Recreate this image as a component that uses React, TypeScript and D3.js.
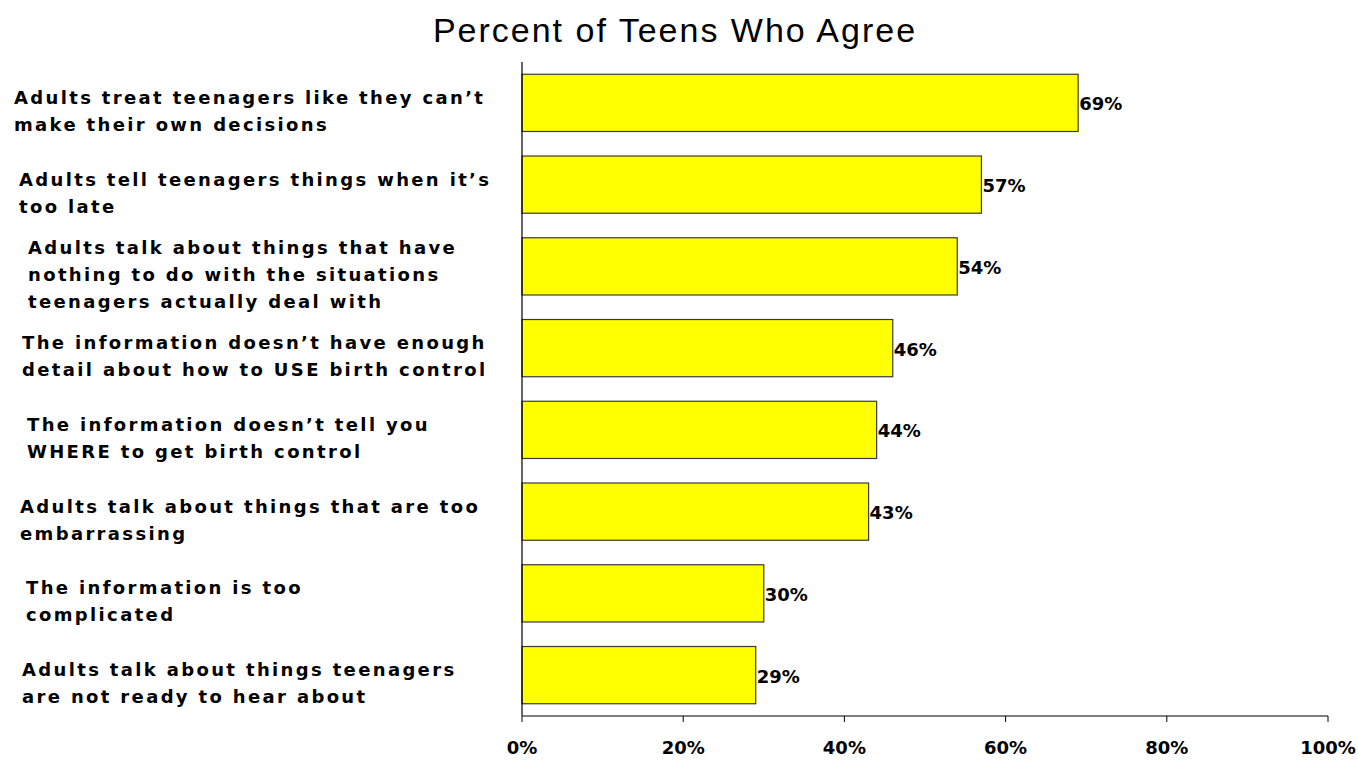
import React from "react";
import * as d3 from "d3";

const categories: string[][] = [
  ["Adults treat teenagers like they can\u2019t", "make their own decisions"],
  ["Adults tell teenagers things when it\u2019s", "too late"],
  ["Adults talk about things that have", "nothing to do with the situations", "teenagers actually deal with"],
  ["The information doesn\u2019t have enough", "detail about how to USE birth control"],
  ["The information doesn\u2019t tell you", "WHERE to get birth control"],
  ["Adults talk about things that are too", "embarrassing"],
  ["The information is too", "complicated"],
  ["Adults talk about things teenagers", "are not ready to hear about"],
];
const values: number[] = [69, 57, 54, 46, 44, 43, 30, 29];
const tickValues: number[] = [0, 20, 40, 60, 80, 100];
const title = "Percent of Teens Who Agree";

// layout only: left indent of each category label
const labelIndent: number[] = [14, 19, 28, 22, 27, 20, 26, 22];

const W = 1358;
const H = 761;
const SANS = "'Liberation Sans', Arial, Helvetica, sans-serif";
const WIDE = "'DejaVu Sans', Verdana, sans-serif";

export default function App() {
  const x = d3.scaleLinear().domain([0, 100]).range([522, 1328]);
  const y = d3
    .scaleBand<number>()
    .domain(d3.range(values.length))
    .range([62, 716])
    .paddingInner(0.3)
    .paddingOuter(0.15);
  const lineH = 27;

  return (
    <svg
      width={W}
      height={H}
      style={{ position: "absolute", left: 0, top: 0, background: "#fff" }}
    >
      <text
        x={675}
        y={42}
        textAnchor="middle"
        fontSize={34}
        letterSpacing={2}
        fontFamily={SANS}
        fill="#000"
      >
        {title}
      </text>

      {values.map((v, i) => {
        const y0 = y(i)!;
        const bw = y.bandwidth();
        const cy = y0 + bw / 2;
        return (
          <g key={i}>
            <rect
              x={x(0)}
              y={y0}
              width={x(v) - x(0)}
              height={bw}
              fill="#ffff00"
              stroke="#3a3a3a"
              strokeWidth={1.2}
            />
            <text
              x={x(v) + 1}
              y={cy + 1}
              dy="0.36em"
              fontSize={18}
              fontWeight="bold"
              fontFamily={WIDE}
              fill="#000"
            >
              {v}%
            </text>
            {categories[i].map((line, j) => {
              const n = categories[i].length;
              const ly = cy + 8 + (j - (n - 1) / 2) * lineH;
              return (
                <text
                  key={j}
                  x={labelIndent[i]}
                  y={ly}
                  dy="0.36em"
                  fontSize={18}
                  fontWeight="bold"
                  letterSpacing={2.35}
                  fontFamily={WIDE}
                  fill="#000"
                >
                  {line}
                </text>
              );
            })}
          </g>
        );
      })}

      <line x1={x(0)} x2={x(0)} y1={62} y2={716} stroke="#000" strokeWidth={1.2} />
      <line x1={x(0)} x2={x(100)} y1={716} y2={716} stroke="#555" strokeWidth={1.6} />
      {tickValues.map((t) => (
        <g key={t}>
          <line x1={x(t)} x2={x(t)} y1={716} y2={722} stroke="#000" strokeWidth={1} />
          <text
            x={x(t)}
            y={748}
            dy="0.36em"
            textAnchor="middle"
            fontSize={18}
            fontWeight="bold"
            fontFamily={WIDE}
            fill="#000"
          >
            {t}%
          </text>
        </g>
      ))}
    </svg>
  );
}
